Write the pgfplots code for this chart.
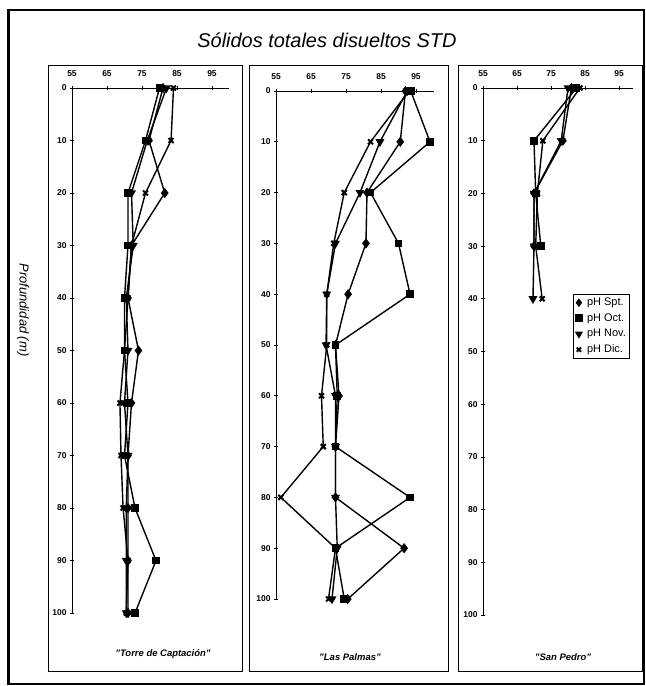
\documentclass[border=0pt]{standalone}
\usepackage{fontspec}
\setmainfont{Liberation Sans}
\usepackage{pgfplots}
\pgfplotsset{compat=1.18}
\pgfplotsset{
  panel/.style={
    scale only axis, y dir=reverse, xmin=55, ymin=0, ymax=100,
    axis x line*=top, axis y line*=left,
    axis line style={-, line width=0.8bp},
    xtick={55,65,75,85,95}, ytick={0,10,...,100},
    tick align=center, major tick length=4bp,
    tick style={line width=0.8bp, black},
    tick label style={font=\fontsize{8.5}{8.5}\selectfont\bfseries},
    /pgf/number format/assume math mode=true,
    xticklabel style={yshift=6bp},
    clip=false, anchor=north west,
  },
  spt/.style={black, line width=1.4bp, mark=diamond*, mark size=4bp, mark options={solid}},
  oct/.style={black, line width=1.4bp, mark=square*, mark size=3.1bp, mark options={solid}},
  nov/.style={black, line width=1.4bp, mark=triangle*, mark size=3.8bp, mark options={solid, rotate=180}},
  dic/.style={black, line width=1.4bp, mark=x, mark size=3.5bp, mark options={solid, line width=2bp}},
}
\begin{document}
\begin{tikzpicture}
\path[use as bounding box] (0,0) rectangle (646bp,-686bp);
% outer frame
\draw[line width=1.5bp] (8bp,-10bp) rectangle (644bp,-684bp);
\draw[line width=3bp] (8bp,-10bp) -- (8bp,-684bp);
% panel frames
\draw[line width=0.9bp] (48bp,-65bp) rectangle (242bp,-671bp);
\draw[line width=0.9bp] (249bp,-65bp) rectangle (448bp,-671bp);
\draw[line width=0.9bp] (458bp,-65bp) rectangle (642bp,-671bp);
% titles
\node[font=\fontsize{20}{20}\selectfont\itshape] at (327bp,-40bp) {Sólidos totales disueltos STD};
\node[font=\fontsize{13}{13}\selectfont\itshape, rotate=-90] at (23bp,-310bp) {Profundidad (m)};
\node[font=\fontsize{9.5}{9.5}\selectfont\bfseries\itshape] at (163bp,-654bp) {"Torre de Captación"};
\node[font=\fontsize{9.5}{9.5}\selectfont\bfseries\itshape] at (350bp,-657bp) {"Las Palmas"};
\node[font=\fontsize{9.5}{9.5}\selectfont\bfseries\itshape] at (563bp,-657bp) {"San Pedro"};

% Panel 1: Torre de Captacion
\begin{axis}[panel, at={(72bp,-88bp)}, width=157.5bp, height=525bp, xmax=100]
\addplot[spt] coordinates {(81,0) (77,10) (81.5,20) (72,30) (71,40) (74,50) (72,60) (71,70) (71,80) (71,90) (71,100)};
\addplot[oct] coordinates {(80,0) (76,10) (71,20) (71,30) (70,40) (70,50) (71,60) (70,70) (73,80) (79,90) (73,100)};
\addplot[nov] coordinates {(82,0) (76.5,10) (72,20) (72.5,30) (70.5,40) (71,50) (70,60) (71,70) (70.5,80) (70.5,90) (70.5,100)};
\addplot[dic] coordinates {(84,0) (83.3,10) (76,20) (72,30) (71,40) (70,50) (68.7,60) (69,70) (69.6,80) (71,90) (70.5,100)};
\end{axis}

% Panel 2: Las Palmas
\begin{axis}[panel, at={(276bp,-91bp)}, width=157.5bp, height=508bp, xmax=100]
\addplot[spt] coordinates {(92,0) (90.5,10) (81,20) (80.7,30) (75.6,40) (72,50) (73,60) (72,70) (72,80) (91.6,90) (75.5,100)};
\addplot[oct] coordinates {(93.5,0) (99,10) (82,20) (90,30) (93.3,40) (72,50) (72.5,60) (72,70) (93.3,80) (72,90) (74.5,100)};
\addplot[nov] coordinates {(92.5,0) (84.7,10) (79,20) (72,30) (69.5,40) (69.3,50) (72,60) (72,70) (72,80) (72.5,90) (71,100)};
\addplot[dic] coordinates {(93,0) (82,10) (74.5,20) (71.5,30) (69.5,40) (69.5,50) (68,60) (68.5,70) (56.4,80) (72,90) (70,100)};
\end{axis}

% Panel 3: San Pedro
\begin{axis}[panel, at={(483bp,-88bp)}, width=149.6bp, height=527bp, xmax=99,
  legend style={at={(axis cs:81.5,39)}, anchor=north west, draw=black, line width=1.2bp,
    font=\fontsize{11}{11}\selectfont, inner sep=2bp, row sep=2.5bp,
    /tikz/every odd column/.append style={column sep=3bp}},
  legend cell align=left]
\addplot[spt, forget plot] coordinates {(81,0) (78.5,10) (70,20) (70,30)};
\addplot[oct, forget plot] coordinates {(82.5,0) (70,10) (70.5,20) (72,30)};
\addplot[nov, forget plot] coordinates {(80,0) (78,10) (70,20) (70,30) (69.7,40)};
\addplot[dic, forget plot] coordinates {(83.5,0) (72.6,10) (71,20) (70.5,30) (72.4,40)};
\addlegendimage{spt, only marks, mark size=3.2bp}
\addlegendentry{pH Spt.}
\addlegendimage{oct, only marks, mark size=3.2bp}
\addlegendentry{pH Oct.}
\addlegendimage{nov, only marks, mark size=3.4bp}
\addlegendentry{pH Nov.}
\addlegendimage{dic, only marks, mark size=3bp}
\addlegendentry{pH Dic.}
\end{axis}
\end{tikzpicture}
\end{document}
